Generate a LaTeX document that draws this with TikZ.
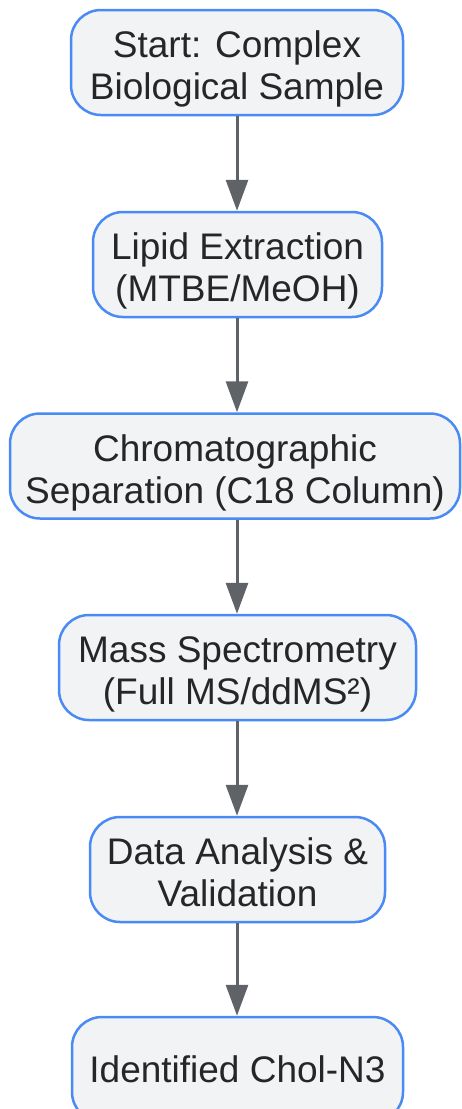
\documentclass[tikz,border=0pt]{standalone}
\usepackage{fontspec}
\setmainfont{Liberation Sans}
\usetikzlibrary{arrows.meta}
\definecolor{boxfill}{HTML}{F1F3F5}
\definecolor{boxline}{HTML}{4A8AF4}
\definecolor{arrowc}{HTML}{5F6368}
\definecolor{txt}{HTML}{262626}
\newcommand\twolines[2]{\rule{0pt}{40pt}#1\\#2\rule[-8pt]{0pt}{8pt}}
\begin{document}
\begin{tikzpicture}[x=1pt,y=1pt,
  stepbox/.style={draw=boxline, fill=boxfill, line width=2.5pt, rounded corners=30pt,
    minimum height=105pt, align=center, text=txt, inner sep=0pt,
    font=\fontsize{37}{42}\selectfont},
  arr/.style={draw=arrowc, line width=3pt, -{Triangle[length=31pt,width=22pt]}}]
\useasboundingbox (0,0) rectangle (461,-1109);
\node[stepbox, minimum width=332pt] (n1) at (237,-62.5) {\twolines{Start: Complex}{Biological Sample}};
\node[stepbox, minimum width=289pt] (n2) at (237.5,-264.5) {\twolines{Lipid Extraction}{(MTBE/MeOH)}};
\node[stepbox, minimum width=450pt] (n3) at (235,-466) {\twolines{Chromatographic}{Separation (C18 Column)}};
\node[stepbox, minimum width=357pt] (n4) at (237.5,-667.5) {\twolines{Mass Spectrometry}{(Full MS/ddMS²)}};
\node[stepbox, minimum width=295pt] (n5) at (237.5,-869.5) {\twolines{Data Analysis \&}{Validation}};
\node[stepbox, minimum width=331pt] (n6) at (237.5,-1069.5) {Identified Chol-N3};
\coordinate (x0) at (237,0);
\draw[arr] (x0 |- n1.south) -- (x0 |- n2.north);
\draw[arr] (x0 |- n2.south) -- (x0 |- n3.north);
\draw[arr] (x0 |- n3.south) -- (x0 |- n4.north);
\draw[arr] (x0 |- n4.south) -- (x0 |- n5.north);
\draw[arr] (x0 |- n5.south) -- (x0 |- n6.north);
\end{tikzpicture}
\end{document}
